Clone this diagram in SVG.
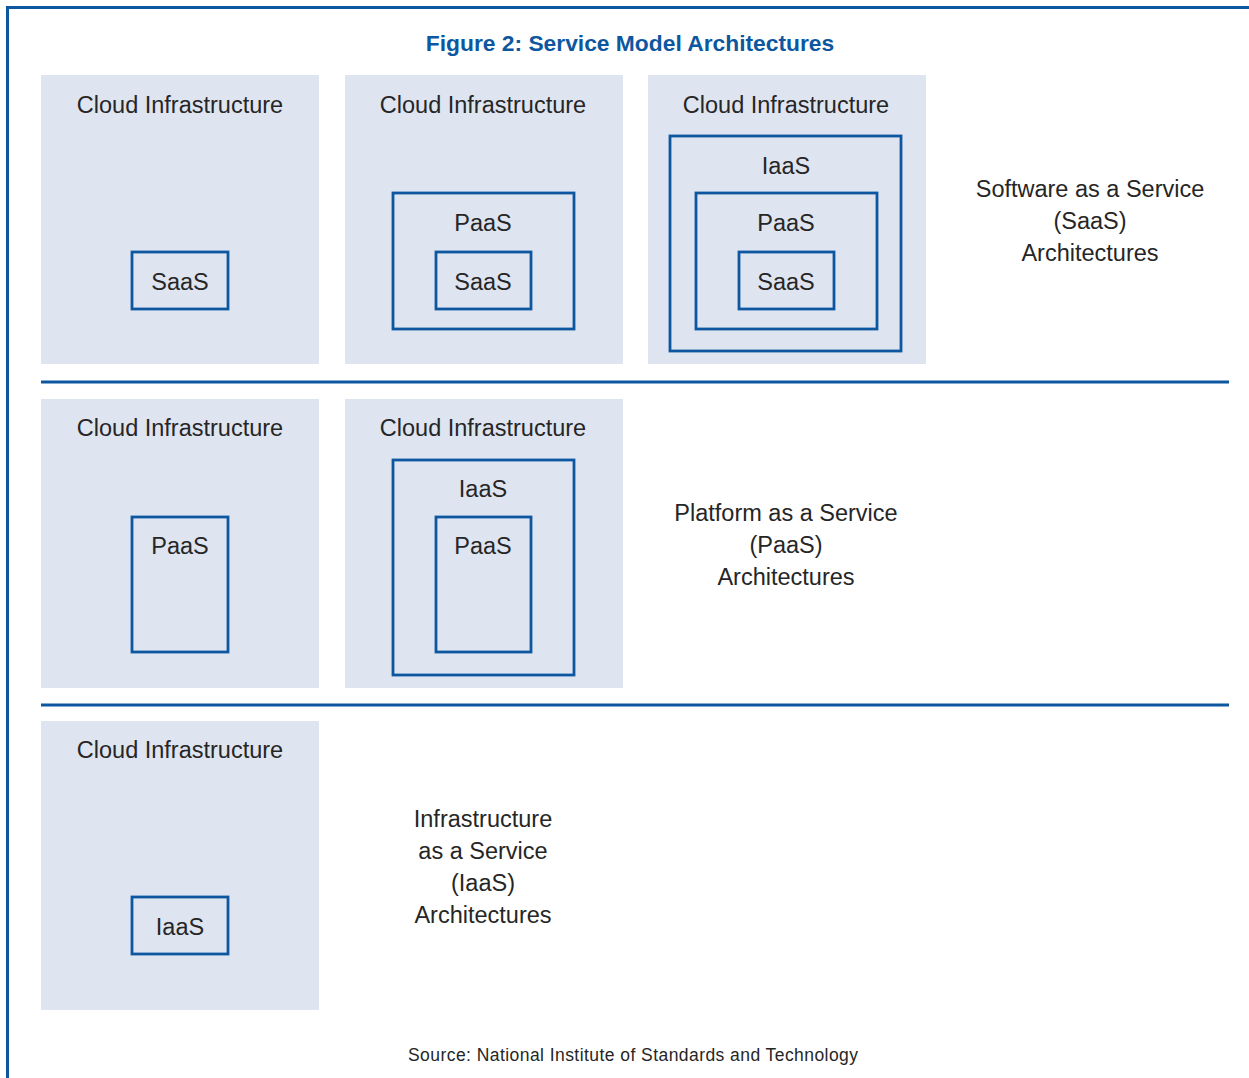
<svg xmlns="http://www.w3.org/2000/svg" width="1249" height="1078" viewBox="0 0 1249 1078">
  <style>
    .panel { fill: #dfe4f1; }
    .box { fill: none; stroke: #0d57a0; stroke-width: 2.8; }
    .rule { stroke: #0d57a0; stroke-width: 3; fill: none; }
    text { font-family: "Liberation Sans", Arial, sans-serif; fill: #262626; text-anchor: middle; font-size: 23.5px; }
    .title { font-weight: bold; fill: #0d57a0; font-size: 22.8px; }
    .source { font-size: 17.5px; }
  </style>

  <rect width="1249" height="1078" fill="#ffffff"/>

  <!-- frame and row dividers -->
  <g id="connectors">
    <path class="rule" d="M7.5 1078 V7.5 H1249"/>
    <line class="rule" x1="41" y1="382" x2="1229" y2="382"/>
    <line class="rule" x1="41" y1="705" x2="1229" y2="705"/>
  </g>

  <text id="title" class="title" x="630" y="51">Figure 2: Service Model Architectures</text>

  <!-- SaaS row -->
  <g id="saas-arch-1">
    <rect class="panel" x="41" y="75" width="278" height="289"/>
    <text x="180" y="113">Cloud Infrastructure</text>
    <rect class="box" x="132" y="252" width="96" height="57"/>
    <text x="180" y="290">SaaS</text>
  </g>
  <g id="saas-arch-2">
    <rect class="panel" x="345" y="75" width="278" height="289"/>
    <text x="483" y="113">Cloud Infrastructure</text>
    <rect class="box" x="393" y="193" width="181" height="136"/>
    <text x="483" y="231">PaaS</text>
    <rect class="box" x="436" y="252" width="95" height="57"/>
    <text x="483" y="290">SaaS</text>
  </g>
  <g id="saas-arch-3">
    <rect class="panel" x="648" y="75" width="278" height="289"/>
    <text x="786" y="113">Cloud Infrastructure</text>
    <rect class="box" x="670" y="136" width="231" height="215"/>
    <text x="786" y="174">IaaS</text>
    <rect class="box" x="696" y="193" width="181" height="136"/>
    <text x="786" y="231">PaaS</text>
    <rect class="box" x="739" y="252" width="95" height="57"/>
    <text x="786" y="290">SaaS</text>
  </g>
  <g id="saas-label">
    <text x="1090" y="197">Software as a Service</text>
    <text x="1090" y="229">(SaaS)</text>
    <text x="1090" y="261">Architectures</text>
  </g>

  <!-- PaaS row -->
  <g id="paas-arch-1">
    <rect class="panel" x="41" y="399" width="278" height="289"/>
    <text x="180" y="436">Cloud Infrastructure</text>
    <rect class="box" x="132" y="517" width="96" height="135"/>
    <text x="180" y="554">PaaS</text>
  </g>
  <g id="paas-arch-2">
    <rect class="panel" x="345" y="399" width="278" height="289"/>
    <text x="483" y="436">Cloud Infrastructure</text>
    <rect class="box" x="393" y="460" width="181" height="215"/>
    <text x="483" y="497">IaaS</text>
    <rect class="box" x="436" y="517" width="95" height="135"/>
    <text x="483" y="554">PaaS</text>
  </g>
  <g id="paas-label">
    <text x="786" y="521">Platform as a Service</text>
    <text x="786" y="553">(PaaS)</text>
    <text x="786" y="585">Architectures</text>
  </g>

  <!-- IaaS row -->
  <g id="iaas-arch-1">
    <rect class="panel" x="41" y="721" width="278" height="289"/>
    <text x="180" y="758">Cloud Infrastructure</text>
    <rect class="box" x="132" y="897" width="96" height="57"/>
    <text x="180" y="935">IaaS</text>
  </g>
  <g id="iaas-label">
    <text x="483" y="827">Infrastructure</text>
    <text x="483" y="859">as a Service</text>
    <text x="483" y="891">(IaaS)</text>
    <text x="483" y="923">Architectures</text>
  </g>

  <text id="source" class="source" x="633" y="1061" textLength="450" lengthAdjust="spacing">Source: National Institute of Standards and Technology</text>
</svg>
